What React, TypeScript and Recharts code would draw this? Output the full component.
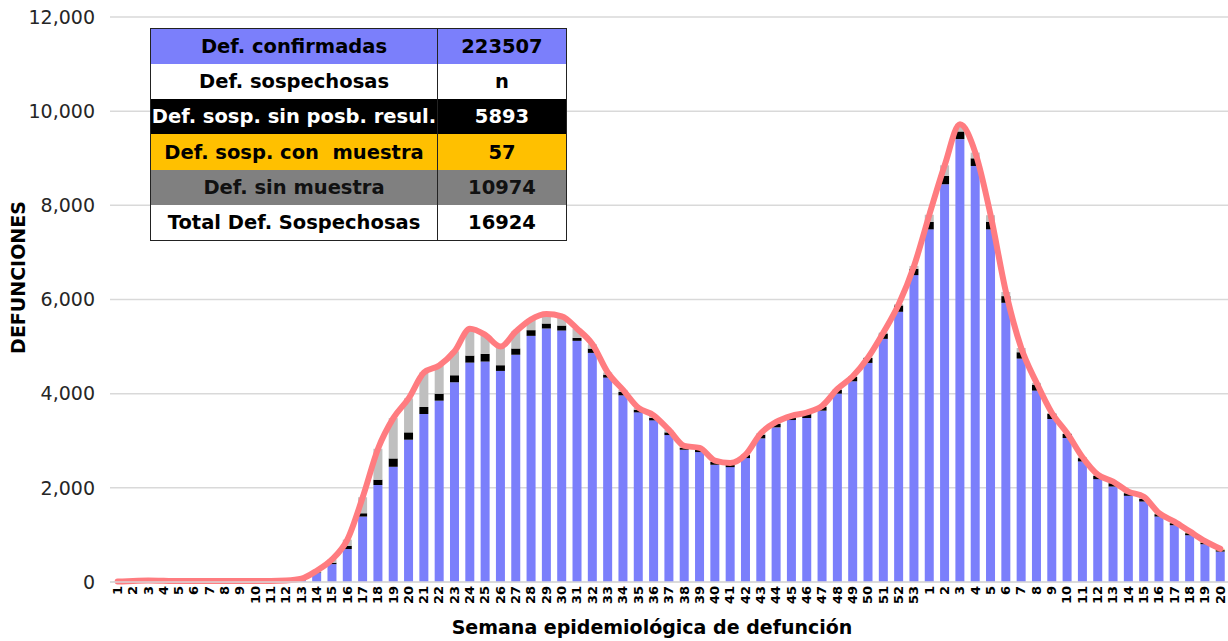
import { ComposedChart, Bar, Line, XAxis, YAxis, CartesianGrid } from "recharts";

document.body.style.margin = "0";

// semanas epidemiológicas: 2020 (1-53) y 2021 (1-20)
const weekLabels = [
  "1", "2", "3", "4", "5", "6", "7", "8", "9", "10", "11", "12", "13", "14", "15", "16", "17", "18", "19", "20",
  "21", "22", "23", "24", "25", "26", "27", "28", "29", "30", "31", "32", "33", "34", "35", "36", "37", "38", "39", "40",
  "41", "42", "43", "44", "45", "46", "47", "48", "49", "50", "51", "52", "53",
  "1", "2", "3", "4", "5", "6", "7", "8", "9", "10", "11", "12", "13", "14", "15", "16", "17", "18", "19", "20",
];

const confirmadas = [
  0, 0, 0, 0, 0, 0, 0, 0, 0, 0, 0, 8, 40,
  190, 380, 700, 1390, 2060, 2447, 3022, 3568, 3851, 4242, 4660, 4682, 4483, 4824, 5228, 5384, 5341, 5122, 4866, 4341,
  3965, 3603, 3433, 3121, 2809, 2760, 2490, 2440, 2632, 3050, 3284, 3440, 3483, 3639, 4001, 4263, 4653, 5164, 5739, 6518,
  7490, 8448, 9406, 8836, 7490, 5930, 4745, 4065, 3462, 3058, 2560, 2185, 2028, 1830, 1709, 1390, 1206, 993, 802, 646,
];

const sinPosibResul = [
  0, 0, 0, 0, 0, 0, 0, 0, 0, 0, 0, 2, 5,
  15, 30, 70, 70, 113, 177, 156, 149, 149, 149, 149, 163, 121, 135, 121, 106, 106, 64, 92, 64,
  71, 57, 50, 57, 43, 50, 64, 64, 64, 78, 78, 64, 85, 78, 85, 92, 106, 113, 135, 135,
  156, 177, 163, 163, 163, 142, 135, 128, 113, 85, 71, 71, 71, 57, 57, 50, 43, 43, 36, 30,
];

const conMuestra = [
  0, 0, 0, 0, 0, 0, 0, 0, 0, 0, 0, 0, 0,
  0, 0, 0, 0, 0, 0, 0, 0, 0, 0, 0, 0, 0, 0, 0, 0, 0, 0, 0, 0,
  0, 0, 0, 0, 0, 0, 0, 0, 0, 0, 0, 0, 0, 0, 0, 0, 0, 0, 0, 0,
  0, 0, 0, 0, 0, 0, 0, 0, 0, 0, 0, 0, 0, 0, 1, 2, 3, 5, 8, 15,
];

const sinMuestra = [
  10, 20, 30, 25, 20, 20, 20, 20, 20, 20, 20, 20, 25,
  35, 70, 130, 340, 657, 856, 722, 733, 600, 509, 571, 405, 396, 361, 231, 200, 193, 194, 92, 45,
  44, 40, 57, 52, 38, 40, 26, 26, 10, 32, 38, 26, 32, 23, 14, 15, 11, 23, 26, 60,
  154, 225, 151, 121, 137, 88, 90, 37, 15, 17, 19, 24, 31, 33, 44, 20, 31, 34, 22, 14,
];

const yTicks = [0, 2000, 4000, 6000, 8000, 10000, 12000];

const tableRows = [
  { label: "Def. confirmadas", value: "223507", bg: "#7B7FFB", color: "#000" },
  { label: "Def. sospechosas", value: "n", bg: "#FFFFFF", color: "#000" },
  { label: "Def. sosp. sin posb. resul.", value: "5893", bg: "#000000", color: "#FFF" },
  { label: "Def. sosp. con  muestra", value: "57", bg: "#FFC000", color: "#000" },
  { label: "Def. sin muestra", value: "10974", bg: "#808080", color: "#111" },
  { label: "Total Def. Sospechosas", value: "16924", bg: "#FFFFFF", color: "#000" },
];

const data = weekLabels.map((w, i) => ({
  key: `${i < 53 ? 2020 : 2021}-${w}`,
  week: w,
  confirmadas: confirmadas[i],
  sinPosibResul: sinPosibResul[i],
  conMuestra: conMuestra[i],
  sinMuestra: sinMuestra[i],
  total: confirmadas[i] + sinPosibResul[i] + conMuestra[i] + sinMuestra[i],
}));

const font = "'DejaVu Sans', sans-serif";

export default function App() {
  return (
    <div style={{ position: "relative", width: 1228, height: 641, background: "#fff" }}>
      <ComposedChart
        width={1228}
        height={641}
        data={data}
        margin={{ top: 17, right: 0, bottom: 0, left: 0 }}
        barCategoryGap="20%"
      >
        <CartesianGrid vertical={false} stroke="#d9d9d9" strokeWidth={1.5} />
        <XAxis
          dataKey="key"
          interval={0}
          tickFormatter={(v: string) => v.split("-")[1]}
          tickLine={false}
          axisLine={{ stroke: "#d9d9d9", strokeWidth: 1.5 }}
          angle={-90}
          textAnchor="end"
          dy={-4}
          dx={-5}
          height={59}
          tick={{ fontSize: 13, fontWeight: 700, fill: "#000", fontFamily: font }}
          label={{
            value: "Semana epidemiológica de defunción",
            position: "insideBottom",
            offset: 7,
            dx: -17,
            style: { fontSize: 19, fontWeight: 700, fill: "#000", fontFamily: font },
          }}
        />
        <YAxis
          width={110}
          domain={[0, 12000]}
          ticks={yTicks}
          tickFormatter={(v: number) => v.toLocaleString("en-US")}
          tickLine={false}
          axisLine={false}
          tickMargin={9}
          tick={{ fontSize: 19, fill: "#262626", fontFamily: font }}
          label={{
            value: "DEFUNCIONES",
            angle: -90,
            position: "insideLeft",
            offset: 18,
            dy: -22,
            style: { fontSize: 19, fontWeight: 700, fill: "#000", fontFamily: font, textAnchor: "middle" },
          }}
        />
        <Bar dataKey="confirmadas" stackId="a" fill="#7B7FFB" isAnimationActive={false} />
        <Bar dataKey="sinPosibResul" stackId="a" fill="#000000" isAnimationActive={false} />
        <Bar dataKey="conMuestra" stackId="a" fill="#FFC000" isAnimationActive={false} />
        <Bar dataKey="sinMuestra" stackId="a" fill="#BFBFBF" isAnimationActive={false} />
        <Line
          dataKey="total"
          type="monotone"
          stroke="#FF7C80"
          strokeWidth={6}
          strokeLinecap="round"
          dot={false}
          activeDot={false}
          isAnimationActive={false}
        />
      </ComposedChart>
      <table
        style={{
          position: "absolute",
          left: 150,
          top: 28,
          width: 417,
          tableLayout: "fixed",
          borderCollapse: "collapse",
          border: "1.5px solid #222",
          fontFamily: font,
          fontWeight: 700,
          fontSize: 19.5,
        }}
      >
        <tbody>
          {tableRows.map((r) => (
            <tr key={r.label} style={{ height: 35.3, background: r.bg, color: r.color }}>
              <td style={{ width: 286, textAlign: "center", padding: 0, whiteSpace: "pre", borderRight: "1.5px solid #222" }}>
                {r.label}
              </td>
              <td style={{ textAlign: "center", padding: 0 }}>{r.value}</td>
            </tr>
          ))}
        </tbody>
      </table>
    </div>
  );
}
